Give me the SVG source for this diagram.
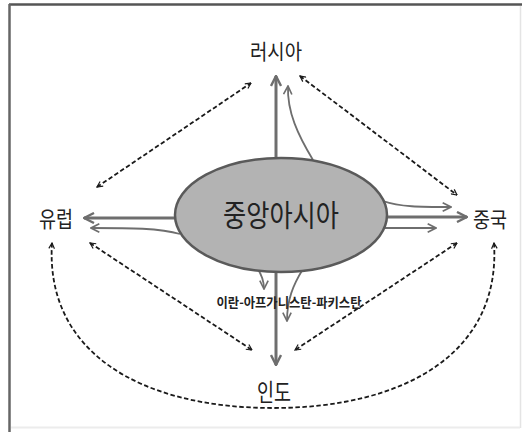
<svg xmlns="http://www.w3.org/2000/svg" width="522" height="432" viewBox="0 0 522 432">
<style>
.lbl{font-family:"Noto Sans CJK KR","Noto Sans",sans-serif;fill:#222;}
.dash{fill:none;stroke:#1a1a1a;stroke-width:1.8;stroke-dasharray:4.5 2.5;}
.thick{fill:none;stroke:#6e6e6e;stroke-width:3;}
.thin{fill:none;stroke:#6e6e6e;stroke-width:1.8;}
</style>
<defs>
<marker id="ad" viewBox="0 0 10 10" refX="9" refY="5" markerWidth="7" markerHeight="7" orient="auto-start-reverse" markerUnits="userSpaceOnUse">
<path d="M1,1 L9,5 L1,9" fill="none" stroke="#1a1a1a" stroke-width="1.7"/>
</marker>
<marker id="ag" viewBox="0 0 12 12" refX="11" refY="6" markerWidth="12" markerHeight="12" orient="auto" markerUnits="userSpaceOnUse">
<path d="M1,1 L11,6 L1,11" fill="none" stroke="#6e6e6e" stroke-width="2.4"/>
</marker>
<marker id="at" viewBox="0 0 12 12" refX="11" refY="6" markerWidth="10" markerHeight="10" orient="auto" markerUnits="userSpaceOnUse">
<path d="M1,1 L11,6 L1,11" fill="none" stroke="#6e6e6e" stroke-width="2"/>
</marker>
</defs>
<rect width="522" height="432" fill="#fff"/>
<g id="frame">
<line x1="9" y1="4.5" x2="522" y2="4.5" stroke="#555" stroke-width="2.5"/>
<line x1="9.5" y1="4" x2="9.5" y2="432" stroke="#666" stroke-width="2.5"/>
<line x1="520.5" y1="6" x2="520.5" y2="428" stroke="#e4e4e4" stroke-width="1.5"/>
<line x1="11" y1="427.5" x2="520" y2="427.5" stroke="#ececec" stroke-width="2"/>
</g>
<g id="connectors">
<path class="dash" d="M97,187 L251,83" marker-start="url(#ad)" marker-end="url(#ad)"/>
<path class="dash" d="M300,76 L457,195" marker-start="url(#ad)" marker-end="url(#ad)"/>
<path class="dash" d="M90,243 L252,350" marker-start="url(#ad)" marker-end="url(#ad)"/>
<path class="dash" d="M457,243 L295,350" marker-start="url(#ad)" marker-end="url(#ad)"/>
<path class="dash" d="M52,243 C45,352 140,408 273,408 C406,408 501,352 494,243" marker-start="url(#ad)" marker-end="url(#ad)"/>
<path class="thick" d="M276,158 L276,76" marker-end="url(#ag)"/>
<path class="thin" d="M313,160 C298,135 287,112 288,86" marker-end="url(#at)"/>
<path class="thick" d="M176,218 L84,218" marker-end="url(#ag)"/>
<path class="thin" d="M180,234 C160,228 130,228 91,228" marker-end="url(#at)"/>
<path class="thick" d="M387,217 L467,217" marker-end="url(#ag)"/>
<path class="thin" d="M383,201 C400,207 420,207 451,207" marker-end="url(#at)"/>
<path class="thin" d="M385,228 L436,228" marker-end="url(#at)"/>
<path class="thick" d="M276,272 L276,365" marker-end="url(#ag)"/>
<path class="thin" d="M257,268 C262,275 264,281 264,289" marker-end="url(#at)"/>
<path class="thin" d="M303,269 C293,285 287,300 287,321" marker-end="url(#at)"/>
</g>
<g id="central-asia">
<ellipse cx="281" cy="215" rx="106" ry="57" fill="#b3b3b3" stroke="#5a5a5a" stroke-width="2.5"/>
<text class="lbl" x="281" y="226" font-size="30" text-anchor="middle" textLength="116" lengthAdjust="spacingAndGlyphs" fill="#333">중앙아시아</text>
</g>
<g id="russia"><text class="lbl" x="276" y="59" font-size="21" text-anchor="middle" textLength="52" lengthAdjust="spacingAndGlyphs">러시아</text></g>
<g id="europe"><text class="lbl" x="56" y="227" font-size="22" text-anchor="middle" textLength="34" lengthAdjust="spacingAndGlyphs">유럽</text></g>
<g id="china"><text class="lbl" x="490" y="227" font-size="21" text-anchor="middle" textLength="34" lengthAdjust="spacingAndGlyphs">중국</text></g>
<g id="india"><text class="lbl" x="274" y="401" font-size="24" text-anchor="middle" textLength="34" lengthAdjust="spacingAndGlyphs">인도</text></g>
<g id="route-label"><text class="lbl" x="289" y="307" font-size="13" font-weight="bold" text-anchor="middle" textLength="145" lengthAdjust="spacingAndGlyphs">이란-아프가니스탄-파키스탄</text></g>
</svg>
